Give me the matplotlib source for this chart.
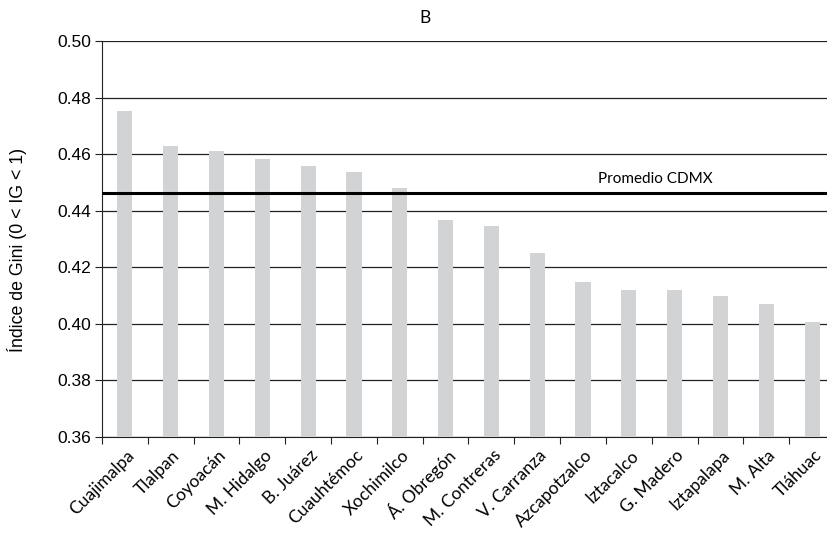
import matplotlib
matplotlib.use("Agg")
import matplotlib.pyplot as plt
import numpy as np

categories = ["Cuajimalpa", "Tlalpan", "Coyoacán", "M. Hidalgo", "B. Juárez", "Cuauhtémoc",
              "Xochimilco", "Á. Obregón", "M. Contreras", "V. Carranza", "Azcapotzalco",
              "Iztacalco", "G. Madero", "Iztapalapa", "M. Alta", "Tláhuac"]
gini = [0.4753, 0.4629, 0.4611, 0.4582, 0.4558, 0.4537, 0.4480, 0.4367, 0.4347, 0.4250,
        0.4148, 0.4120, 0.4120, 0.4099, 0.4071, 0.4007]
promedio = 0.4464
yticks = [0.36, 0.38, 0.40, 0.42, 0.44, 0.46, 0.48, 0.50]

fig = plt.figure(figsize=(8.28, 5.34), dpi=100)
ax = fig.add_axes([102/828, (534-437)/534, (835-102)/828, (437-41)/534])

x = np.arange(len(categories))
ax.bar(x, gini, width=0.33, color="#d1d3d4", zorder=3)
ax.set_ylim(0.36, 0.50)
ax.set_xlim(-0.5, len(categories) - 0.5)
ax.set_yticks(yticks)
ax.set_yticklabels([f"{v:.2f}" for v in yticks], fontfamily="Liberation Sans", fontsize=12.5)
ax.yaxis.grid(True, color="#222222", linewidth=0.9, zorder=1)
ax.set_axisbelow(False)
for s in ["top", "right"]:
    ax.spines[s].set_visible(False)
ax.spines["left"].set_color("#222222")
ax.spines["bottom"].set_color("#222222")
ax.spines["left"].set_zorder(4)
ax.tick_params(axis="y", length=5, color="#222222", pad=3)

ax.set_xticks(np.arange(-0.5, len(categories), 1.0), minor=False)
ax.set_xticklabels([])
ax.tick_params(axis="x", length=5, color="#222222")
for i, c in enumerate(categories):
    ax.text(i + 0.15, -0.04, c, transform=ax.get_xaxis_transform(), rotation=45,
            rotation_mode="anchor", ha="right", va="center", fontsize=12.5,
            family="Lato")

ax.axhline(promedio, color="black", linewidth=2.2, zorder=5)
ax.text(11.57, promedio + 0.0022, "Promedio CDMX", ha="center", va="bottom",
        fontsize=11, family="Lato")

ax.set_ylabel("Índice de Gini (0 < IG < 1)", fontsize=12.8, family="Liberation Sans")
ax.yaxis.set_label_coords(-0.102, 0.472)
fig.text(425/828, 1 - 18/534, "B", ha="center", va="center", fontsize=12.5, family="Lato")

fig.savefig("out.png", dpi=100)
